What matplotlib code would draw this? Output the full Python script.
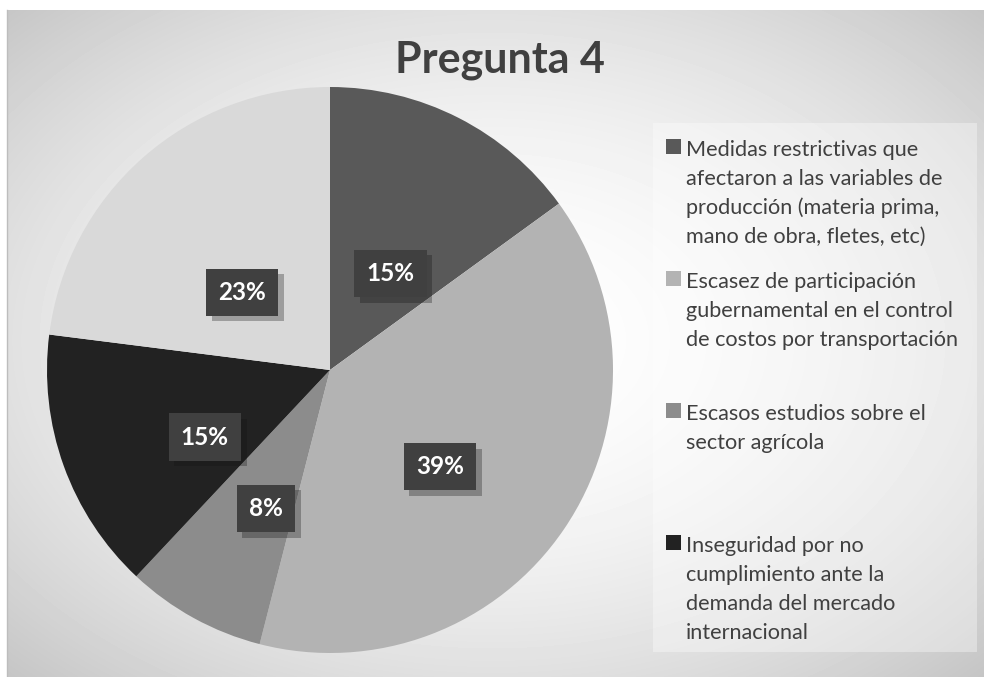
import matplotlib.pyplot as plt
import matplotlib.transforms as mtransforms
import matplotlib.patheffects as pe
from matplotlib.patches import Rectangle
import numpy as np

plt.rcParams['font.family'] = ['Lato', 'DejaVu Sans']

# datos
categorias = ["Medidas restrictivas que\nafectaron a las variables de\nproducción (materia prima,\nmano de obra, fletes, etc)",
              "Escasez de participación\ngubernamental en el control\nde costos por transportación",
              "Escasos estudios sobre el\nsector agrícola",
              "Inseguridad por no\ncumplimiento ante la\ndemanda del mercado\ninternacional",
              "Otros"]
porcentajes = [15, 39, 8, 15, 23]
colores = ['#595959', '#b3b3b3', '#8c8c8c', '#222222', '#d9d9d9']
titulo = "Pregunta 4"

W, H = 984, 677
fig = plt.figure(figsize=(W / 100, H / 100), dpi=100, facecolor='white')

# fondo con degradado radial
bg = fig.add_axes([7 / W, 0, 1 - 7 / W, 667 / H])
yy, xx = np.mgrid[0:667, 0:977]
cx, cy = 485, 330
d = np.sqrt(((xx - cx) / 500.0) ** 2 + ((yy - cy) / 340.0) ** 2) / np.sqrt(2)
v = np.clip(255 - 60 * d ** 1.8, 190, 255) / 255.0
bg.imshow(v, cmap='gray', vmin=0, vmax=1, aspect='auto', interpolation='bilinear')
bg.set_axis_off()
fig.add_artist(plt.Line2D([7 / W, 7 / W], [0, 667 / H], color='#bdbdbd', lw=1))

# caja de la leyenda
fig.add_artist(Rectangle((653 / W, 1 - 652 / H), 324 / W, 529 / H, transform=fig.transFigure,
                         facecolor='white', alpha=0.35, edgecolor='none'))

# pastel
r = 283
cxp, cyp = 330, 370
ax = fig.add_axes([(cxp - r) / W, (H - cyp - r) / H, 2 * r / W, 2 * r / H])
wedges, texts, autotexts = ax.pie(porcentajes, colors=colores, startangle=90, counterclock=False,
                                  autopct=lambda p: f'{p:.0f}%', pctdistance=0.47,
                                  wedgeprops=dict(linewidth=0))
ax.set_xlim(-1, 1)
ax.set_ylim(-1, 1)
ax.set_aspect('equal')

etiqueta = mtransforms.offset_copy(ax.transData, fig=fig, x=0, y=-22, units='dots')
for t in autotexts:
    t.set_transform(etiqueta)
    t.set_color('white')
    t.set_fontsize(17.5)
    t.set_fontweight('bold')
    t.set_bbox(dict(boxstyle='square,pad=0.5', fc='#404040', ec='none', lw=0))
    t.get_bbox_patch().set_path_effects([pe.SimplePatchShadow(offset=(4, -4), alpha=0.3), pe.Normal()])
    t.set_zorder(5)

# titulo
fig.text(500 / W, 1 - 73 / H, titulo, ha='center', va='baseline', fontsize=31,
         fontweight='bold', color='#404040')

# leyenda (solo caben 4 entradas)
base0 = 156
for i in range(4):
    b = base0 + 132 * i
    fig.add_artist(Rectangle((666 / W, 1 - (b - 2) / H), 15 / W, 15 / H, transform=fig.transFigure,
                             facecolor=colores[i], edgecolor='none'))
    for j, linea in enumerate(categorias[i].split('\n')):
        fig.text(686 / W, 1 - (b + 29 * j) / H, linea, ha='left', va='baseline',
                 fontsize=15.6, color='#404040')

plt.savefig('out.png', dpi=100, facecolor='white')
